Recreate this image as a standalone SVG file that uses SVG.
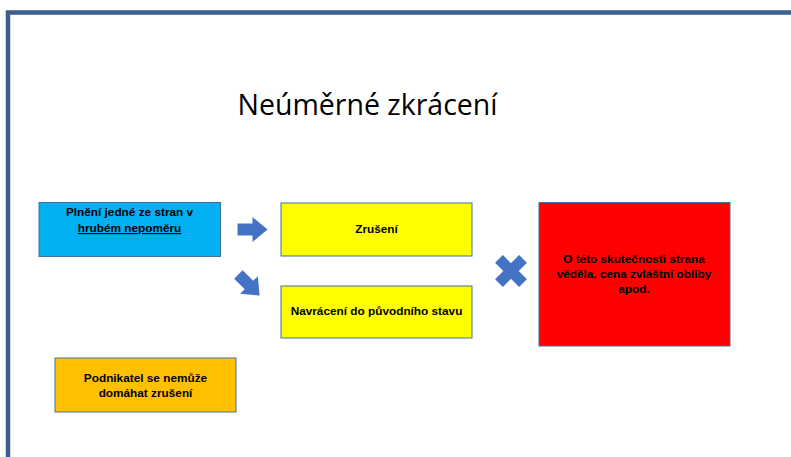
<svg xmlns="http://www.w3.org/2000/svg" width="791" height="457" viewBox="0 0 791 457">
<defs>
<style>
.box{stroke:#41719C;stroke-width:1}
.t{font-family:"Liberation Sans",Arial,sans-serif;font-weight:bold;font-size:11.8px;fill:#000;text-anchor:middle}
.shape{fill:#4472C4}
</style>
<path id="arr" d="M-15,-6 H0 V-12.5 L15,0 L0,12.5 V6 H-15 Z"/>
</defs>
<rect width="791" height="457" fill="#fff"/>
<g id="frame">
<path d="M8,457 V12.5 H791" fill="none" stroke="#3B5E8C" stroke-width="4.5"/>
</g>
<g id="title">
<text x="367.5" y="115" font-family="'Open Sans','Liberation Sans',sans-serif" font-size="28.5" text-anchor="middle" fill="#000">Neúměrné zkrácení</text>
</g>
<g id="n-plneni">
<rect class="box" x="39" y="202.5" width="181.5" height="54" fill="#00B0F0"/>
<text class="t" x="129.5" y="216">Plnění jedné ze stran v</text>
<text class="t" x="129.5" y="232" text-decoration="underline">hrubém nepoměru</text>
</g>
<g id="n-zruseni">
<rect class="box" x="281" y="203" width="191" height="53" fill="#FFFF00"/>
<text class="t" x="376.5" y="233">Zrušení</text>
</g>
<g id="n-navraceni">
<rect class="box" x="281" y="286" width="191" height="52" fill="#FFFF00"/>
<text class="t" x="376.5" y="315">Navrácení do původního stavu</text>
</g>
<g id="n-skutecnost">
<rect class="box" x="539" y="202.5" width="191" height="143.5" fill="#FF0000"/>
<text class="t" x="634" y="263">O této skutečnosti strana</text>
<text class="t" x="634" y="278">věděla, cena zvláštní obliby</text>
<text class="t" x="634" y="293">apod.</text>
</g>
<g id="n-podnikatel">
<rect class="box" x="55" y="358" width="181" height="54" fill="#FFC000"/>
<text class="t" x="145.5" y="382">Podnikatel se nemůže</text>
<text class="t" x="145.5" y="397">domáhat zrušení</text>
</g>
<g id="connectors">
<use href="#arr" class="shape" transform="translate(252.5,229.5)"/>
<use href="#arr" class="shape" transform="translate(249,285) rotate(45)"/>
<g class="shape" transform="translate(511,271) rotate(45)">
<rect x="-17" y="-5.5" width="34" height="11"/>
<rect x="-5.5" y="-17" width="11" height="34"/>
</g>
</g>
</svg>
